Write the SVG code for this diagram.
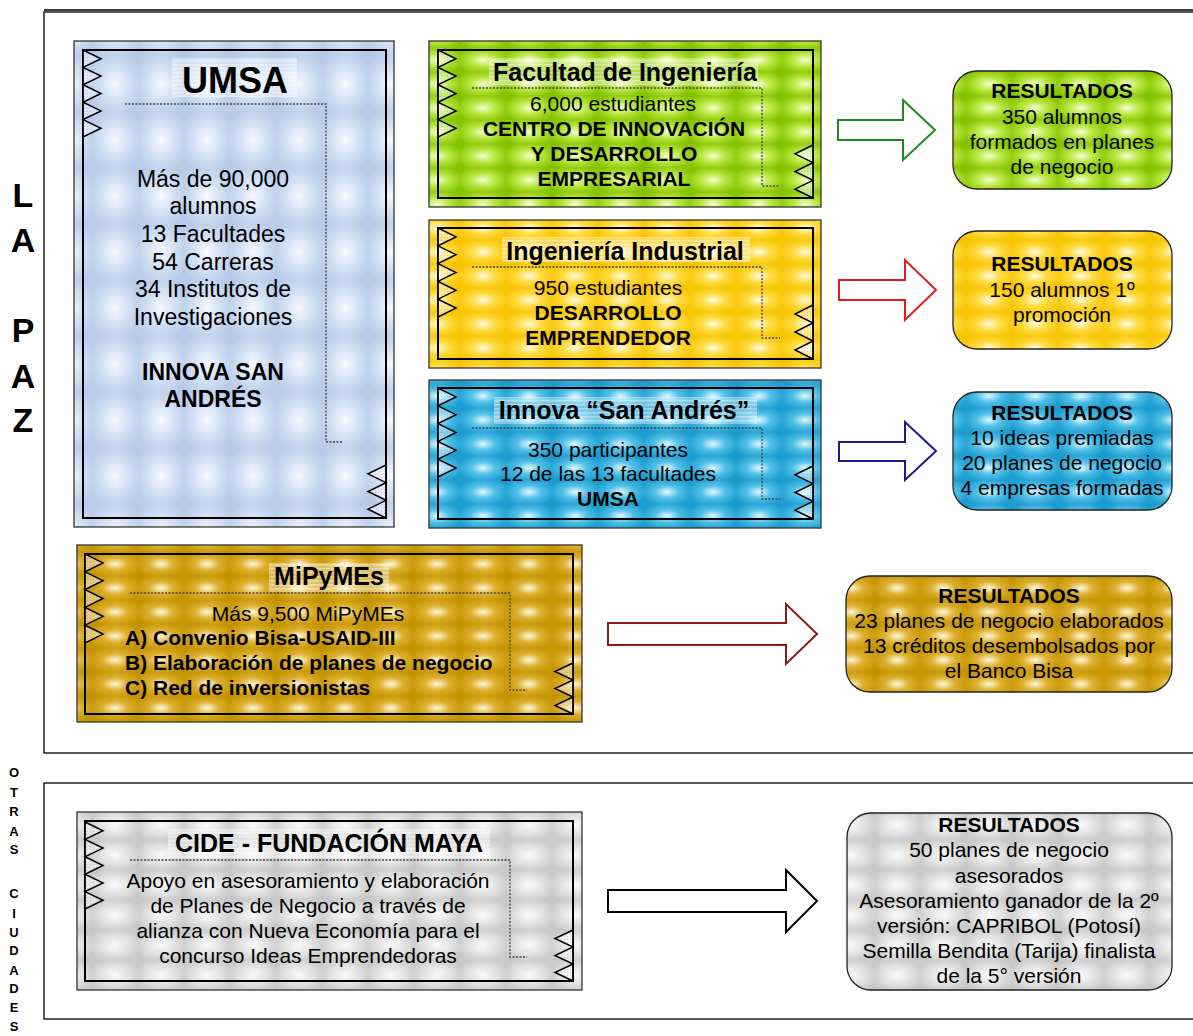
<svg xmlns="http://www.w3.org/2000/svg" width="1193" height="1036" viewBox="0 0 1193 1036">
<defs>
<radialGradient id="rgGreen" cx="50%" cy="50%" r="60%"><stop offset="0" stop-color="#f4ffd0"/><stop offset="0.45" stop-color="#b8e640"/><stop offset="1" stop-color="#86c400"/></radialGradient>
<radialGradient id="rgYellow" cx="50%" cy="50%" r="60%"><stop offset="0" stop-color="#fffbe0"/><stop offset="0.45" stop-color="#ffdb40"/><stop offset="1" stop-color="#f7c400"/></radialGradient>
<radialGradient id="rgBlue" cx="50%" cy="50%" r="60%"><stop offset="0" stop-color="#e0f8ff"/><stop offset="0.45" stop-color="#50c0e8"/><stop offset="1" stop-color="#1c9ccf"/></radialGradient>
<radialGradient id="rgGold" cx="50%" cy="50%" r="60%"><stop offset="0" stop-color="#fff8d8"/><stop offset="0.45" stop-color="#ddb030"/><stop offset="1" stop-color="#c49400"/></radialGradient>
<radialGradient id="rgLight" cx="50%" cy="50%" r="60%"><stop offset="0" stop-color="#f6f9ff"/><stop offset="0.5" stop-color="#d2e0f4"/><stop offset="1" stop-color="#b8cbe8"/></radialGradient>
<radialGradient id="rgGray" cx="50%" cy="50%" r="60%"><stop offset="0" stop-color="#fafafa"/><stop offset="0.5" stop-color="#e2e2e2"/><stop offset="1" stop-color="#c8c8c8"/></radialGradient>
<pattern id="pGreen" patternUnits="userSpaceOnUse" width="46" height="24"><rect width="46" height="24" fill="url(#rgGreen)"/></pattern>
<pattern id="pYellow" patternUnits="userSpaceOnUse" width="46" height="24"><rect width="46" height="24" fill="url(#rgYellow)"/></pattern>
<pattern id="pBlue" patternUnits="userSpaceOnUse" width="46" height="24"><rect width="46" height="24" fill="url(#rgBlue)"/></pattern>
<pattern id="pGold" patternUnits="userSpaceOnUse" width="46" height="24"><rect width="46" height="24" fill="url(#rgGold)"/></pattern>
<pattern id="pLight" patternUnits="userSpaceOnUse" width="46" height="56"><rect width="46" height="56" fill="url(#rgLight)"/></pattern>
<pattern id="pGray" patternUnits="userSpaceOnUse" width="46" height="30"><rect width="46" height="30" fill="url(#rgGray)"/></pattern>
<pattern id="pStripe" patternUnits="userSpaceOnUse" width="4" height="4"><rect width="4" height="4" fill="#ffffff" fill-opacity="0.35"/><rect width="4" height="1.5" fill="#ffffff" fill-opacity="0.35"/></pattern>
<pattern id="pMesh" patternUnits="userSpaceOnUse" width="3" height="3"><rect width="3" height="3" fill="#ffffff" fill-opacity="0.45"/><rect width="1" height="1" fill="#000000" fill-opacity="0.12"/></pattern>
</defs>
<style>
text{font-family:"Liberation Sans",Arial,sans-serif;fill:#000}
.t{font-size:21px;text-anchor:middle}
.u{font-size:23px}
.b{font-weight:bold}
.l{text-anchor:start}
.ttl{font-size:25px;font-weight:bold;text-anchor:middle}
.side{font-size:34px;font-weight:bold;text-anchor:middle}
.side2{font-size:13px;font-weight:bold;text-anchor:middle}
.outer{stroke:#333;stroke-width:1.3}
.inner{fill:none;stroke:#000;stroke-width:2}
.zig{fill:url(#pMesh);stroke:#000;stroke-width:1.5;stroke-linejoin:miter}
.dot{fill:none;stroke:#444;stroke-width:1.3;stroke-dasharray:2 1.5}
.hl{fill:url(#pStripe)}
.res{stroke:#222;stroke-width:1.3}
.arr{fill:#fff;stroke-width:2}
.frame{fill:none;stroke:#000;stroke-width:1.3}
</style>

<g id="frames">
<rect class="frame" x="44" y="12" width="1160" height="741"/>
<line x1="44" y1="10" x2="1193" y2="10" stroke="#000" stroke-width="1.5"/>
<rect class="frame" x="44" y="783" width="1160" height="236"/>
</g>

<g id="label-lapaz">
<text class="side" x="23" y="207">L</text>
<text class="side" x="23" y="252">A</text>
<text class="side" x="23" y="342">P</text>
<text class="side" x="23" y="388">A</text>
<text class="side" x="23" y="432">Z</text>
</g>

<g id="label-otras">
<text class="side2" x="14" y="777">O</text>
<text class="side2" x="14" y="797">T</text>
<text class="side2" x="14" y="816">R</text>
<text class="side2" x="14" y="836">A</text>
<text class="side2" x="14" y="854">S</text>
<text class="side2" x="14" y="898">C</text>
<text class="side2" x="14" y="918">I</text>
<text class="side2" x="14" y="937">U</text>
<text class="side2" x="14" y="955">D</text>
<text class="side2" x="14" y="975">A</text>
<text class="side2" x="14" y="993">D</text>
<text class="side2" x="14" y="1012">E</text>
<text class="side2" x="14" y="1031">S</text>
</g>

<g id="umsa">
<rect class="outer" x="74" y="41" width="320" height="486" fill="url(#pLight)"/>
<rect class="inner" x="83" y="50" width="303" height="468"/>
<polygon class="zig" points="83,50 101,58.7 83,67.4 101,76.1 83,84.8 101,93.5 83,102.2 101,110.9 83,119.6 101,128.3 83,137"/>
<polygon class="zig" points="386,465 368,473.8 386,482.7 368,491.5 386,500.3 368,509.2 386,518"/>
<rect class="hl" x="172" y="58" width="125" height="39"/>
<text x="235" y="93" style="font-size:36px;font-weight:bold;text-anchor:middle">UMSA</text>
<polyline class="dot" points="125,104 326,104 326,442 343,442"/>
<text class="t u" x="213" y="187">Más de 90,000</text>
<text class="t u" x="213" y="214">alumnos</text>
<text class="t u" x="213" y="242">13 Facultades</text>
<text class="t u" x="213" y="270">54 Carreras</text>
<text class="t u" x="213" y="297">34 Institutos de</text>
<text class="t u" x="213" y="325">Investigaciones</text>
<text class="t u b" x="213" y="380">INNOVA SAN</text>
<text class="t u b" x="213" y="407">ANDRÉS</text>
</g>

<g id="facultad">
<rect class="outer" x="429" y="41" width="392" height="166" fill="url(#pGreen)"/>
<rect class="inner" x="438" y="50" width="375" height="148"/>
<polygon class="zig" points="438,50 456,58.7 438,67.4 456,76.1 438,84.8 456,93.5 438,102.2 456,110.9 438,119.6 456,128.3 438,137"/>
<polygon class="zig" points="813,145 795,153.8 813,162.7 795,171.5 813,180.3 795,189.2 813,198"/>
<rect class="hl" x="489" y="58" width="269" height="27"/>
<text class="ttl" x="625" y="81">Facultad de Ingeniería</text>
<polyline class="dot" points="472,88 762,88 762,186 780,186"/>
<text class="t" x="613" y="111">6,000 estudiantes</text>
<text class="t b" x="614" y="136">CENTRO DE INNOVACIÓN</text>
<text class="t b" x="614" y="161">Y DESARROLLO</text>
<text class="t b" x="614" y="186">EMPRESARIAL</text>
</g>

<g id="industrial">
<rect class="outer" x="429" y="220" width="392" height="148" fill="url(#pYellow)"/>
<rect class="inner" x="438" y="228" width="375" height="131"/>
<polygon class="zig" points="438,228 456,236.9 438,245.8 456,254.7 438,263.6 456,272.5 438,281.4 456,290.3 438,299.2 456,308.1 438,317"/>
<polygon class="zig" points="813,305 795,314 813,323 795,332 813,341 795,350 813,359"/>
<rect class="hl" x="502" y="237" width="248" height="25"/>
<text class="ttl" x="625" y="260">Ingeniería Industrial</text>
<polyline class="dot" points="472,267 762,267 762,338 780,338"/>
<text class="t" x="608" y="295">950 estudiantes</text>
<text class="t b" x="608" y="320">DESARROLLO</text>
<text class="t b" x="608" y="345">EMPRENDEDOR</text>
</g>

<g id="innova">
<rect class="outer" x="429" y="380" width="392" height="148" fill="url(#pBlue)"/>
<rect class="inner" x="438" y="388" width="375" height="131"/>
<polygon class="zig" points="438,388 456,396.9 438,405.8 456,414.7 438,423.6 456,432.5 438,441.4 456,450.3 438,459.2 456,468.1 438,477"/>
<polygon class="zig" points="813,466 795,474.8 813,483.7 795,492.5 813,501.3 795,510.2 813,519"/>
<rect class="hl" x="494" y="397" width="263" height="27"/>
<text class="ttl" x="624" y="419">Innova “San Andrés”</text>
<polyline class="dot" points="472,428 762,428 762,499 780,499"/>
<text class="t" x="608" y="457">350 participantes</text>
<text class="t" x="608" y="481">12 de las 13 facultades</text>
<text class="t b" x="608" y="506">UMSA</text>
</g>

<g id="mipymes">
<rect class="outer" x="77" y="545" width="505" height="177" fill="url(#pGold)"/>
<rect class="inner" x="85" y="554" width="488" height="160"/>
<polygon class="zig" points="85,554 103,562.9 85,571.8 103,580.7 85,589.6 103,598.5 85,607.4 103,616.3 85,625.2 103,634.1 85,643"/>
<polygon class="zig" points="573,663 555,671.5 573,680 555,688.5 573,697 555,705.5 573,714"/>
<rect class="hl" x="269" y="563" width="120" height="29"/>
<text class="ttl" x="329" y="585">MiPyMEs</text>
<polyline class="dot" points="130,593 510,593 510,690 527,690"/>
<text class="t" x="308" y="621">Más 9,500 MiPyMEs</text>
<text class="t b l" x="125" y="645">A) Convenio Bisa-USAID-III</text>
<text class="t b l" x="125" y="670">B) Elaboración de planes de negocio</text>
<text class="t b l" x="125" y="695">C) Red de inversionistas</text>
</g>

<g id="cide">
<rect class="outer" x="77" y="812" width="505" height="178" fill="url(#pGray)"/>
<rect class="inner" x="85" y="821" width="488" height="160"/>
<polygon class="zig" points="85,822 103,830.7 85,839.4 103,848.1 85,856.8 103,865.5 85,874.2 103,882.9 85,891.6 103,900.3 85,909"/>
<polygon class="zig" points="573,930 555,938.5 573,947 555,955.5 573,964 555,972.5 573,981"/>
<rect class="hl" x="168" y="829" width="322" height="29"/>
<text class="ttl" x="329" y="852">CIDE - FUNDACIÓN MAYA</text>
<polyline class="dot" points="130,860 510,860 510,957 527,957"/>
<text class="t" x="308" y="888">Apoyo en asesoramiento y elaboración</text>
<text class="t" x="308" y="913">de Planes de Negocio a través de</text>
<text class="t" x="308" y="938">alianza con Nueva Economía para el</text>
<text class="t" x="308" y="963">concurso Ideas Emprendedoras</text>
</g>

<g id="res-facultad">
<rect class="res" x="953" y="71" width="219" height="118" rx="24" fill="url(#pGreen)"/>
<text class="t b" x="1062" y="98">RESULTADOS</text>
<text class="t" x="1062" y="124">350 alumnos</text>
<text class="t" x="1062" y="149">formados en planes</text>
<text class="t" x="1062" y="174">de negocio</text>
</g>

<g id="res-industrial">
<rect class="res" x="953" y="231" width="219" height="118" rx="24" fill="url(#pYellow)"/>
<text class="t b" x="1062" y="271">RESULTADOS</text>
<text class="t" x="1062" y="297">150 alumnos 1º</text>
<text class="t" x="1062" y="322">promoción</text>
</g>

<g id="res-innova">
<rect class="res" x="953" y="392" width="219" height="118" rx="24" fill="url(#pBlue)"/>
<text class="t b" x="1062" y="420">RESULTADOS</text>
<text class="t" x="1062" y="445">10 ideas premiadas</text>
<text class="t" x="1062" y="470">20 planes de negocio</text>
<text class="t" x="1062" y="495">4 empresas formadas</text>
</g>

<g id="res-mipymes">
<rect class="res" x="846" y="576" width="326" height="116" rx="24" fill="url(#pGold)"/>
<text class="t b" x="1009" y="603">RESULTADOS</text>
<text class="t" x="1009" y="628">23 planes de negocio elaborados</text>
<text class="t" x="1009" y="653">13 créditos desembolsados por</text>
<text class="t" x="1009" y="678">el Banco Bisa</text>
</g>

<g id="res-cide">
<rect class="res" x="847" y="813" width="325" height="177" rx="24" fill="url(#pGray)"/>
<text class="t b" x="1009" y="832">RESULTADOS</text>
<text class="t" x="1009" y="857">50 planes de negocio</text>
<text class="t" x="1009" y="883">asesorados</text>
<text class="t" x="1009" y="908">Asesoramiento ganador de la 2º</text>
<text class="t" x="1009" y="933">versión: CAPRIBOL (Potosí)</text>
<text class="t" x="1009" y="958">Semilla Bendita (Tarija) finalista</text>
<text class="t" x="1009" y="983">de la 5° versión</text>
</g>

<g id="connectors">
<polygon class="arr" stroke="#1a8c1a" points="838,120 903,120 903,100 935,130 903,160 903,140 838,140"/>
<polygon class="arr" stroke="#e81818" points="839,280 905,280 905,260 936,290 905,320 905,300 839,300"/>
<polygon class="arr" stroke="#1a1a8c" points="839,442 905,442 905,422 936,451 905,480 905,461 839,461"/>
<polygon class="arr" stroke="#8b1a1a" points="608,623 786,623 786,604 817,634 786,664 786,645 608,645"/>
<polygon class="arr" stroke="#000" points="608,890 786,890 786,870 817,901 786,932 786,912 608,912"/>
</g>
</svg>
